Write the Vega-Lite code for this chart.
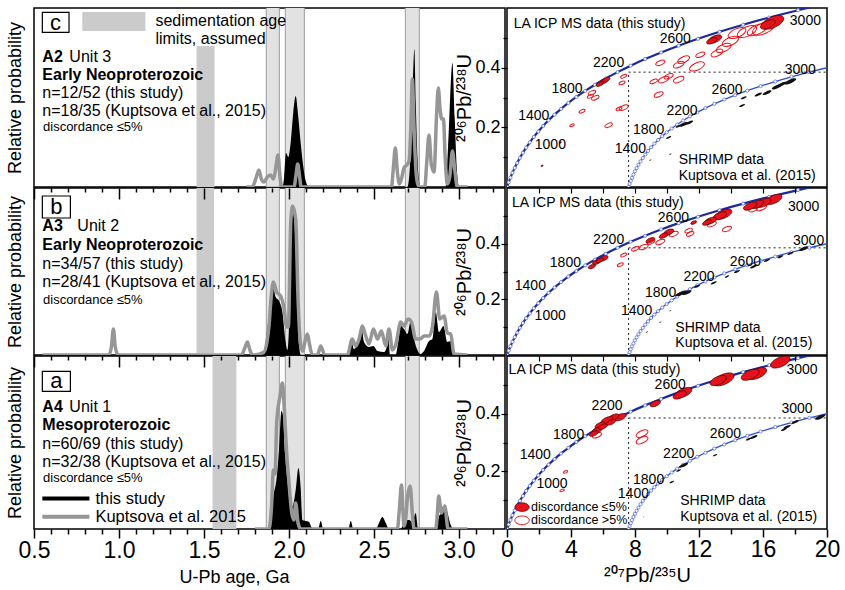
{
"$schema":"https://vega.github.io/schema/vega-lite/v6.json",
"padding":{"left":5,"top":7,"right":2,"bottom":2},
"background":"white",
"columns":2,
"spacing":{"row":1,"column":2},
"bounds":"flush",
"config":{"font":"Liberation Sans","view":{"stroke":"black","strokeWidth":1.5},"axis":{"grid":false,"labelColor":"black","titleColor":"black","tickColor":"black","domainColor":"black","titleFontWeight":"normal","labelFont":"Liberation Sans","titleFont":"Liberation Sans"},"text":{"color":"black","font":"Liberation Sans"}},
"datasets":{
"dens":[
{"p":"c","s":"this","x":1.80,"y":0},{"p":"c","s":"this","x":1.961,"y":0},{"p":"c","s":"this","x":1.971,"y":10},{"p":"c","s":"this","x":1.982,"y":34},{"p":"c","s":"this","x":1.996,"y":30},{"p":"c","s":"this","x":2.010,"y":45},{"p":"c","s":"this","x":2.025,"y":75},{"p":"c","s":"this","x":2.039,"y":91},{"p":"c","s":"this","x":2.053,"y":72},{"p":"c","s":"this","x":2.069,"y":43},{"p":"c","s":"this","x":2.084,"y":20},{"p":"c","s":"this","x":2.098,"y":6},{"p":"c","s":"this","x":2.118,"y":0},{"p":"c","s":"this","x":2.696,"y":0},{"p":"c","s":"this","x":2.710,"y":18},{"p":"c","s":"this","x":2.720,"y":55},{"p":"c","s":"this","x":2.728,"y":100},{"p":"c","s":"this","x":2.737,"y":138},{"p":"c","s":"this","x":2.745,"y":85},{"p":"c","s":"this","x":2.755,"y":30},{"p":"c","s":"this","x":2.765,"y":5},{"p":"c","s":"this","x":2.774,"y":0},{"p":"c","s":"this","x":2.921,"y":0},{"p":"c","s":"this","x":2.935,"y":40},{"p":"c","s":"this","x":2.961,"y":124},{"p":"c","s":"this","x":2.974,"y":70},{"p":"c","s":"this","x":2.986,"y":20},{"p":"c","s":"this","x":3.000,"y":0},{"p":"c","s":"this","x":3.049,"y":0},
{"p":"c","s":"kup","x":1.751,"y":0},{"p":"c","s":"kup","x":1.784,"y":0},{"p":"c","s":"kup","x":1.804,"y":8},{"p":"c","s":"kup","x":1.823,"y":17},{"p":"c","s":"kup","x":1.837,"y":8},{"p":"c","s":"kup","x":1.853,"y":5},{"p":"c","s":"kup","x":1.872,"y":10},{"p":"c","s":"kup","x":1.892,"y":12},{"p":"c","s":"kup","x":1.908,"y":8},{"p":"c","s":"kup","x":1.921,"y":18},{"p":"c","s":"kup","x":1.935,"y":32},{"p":"c","s":"kup","x":1.947,"y":10},{"p":"c","s":"kup","x":1.957,"y":0},{"p":"c","s":"kup","x":2.029,"y":0},{"p":"c","s":"kup","x":2.041,"y":12},{"p":"c","s":"kup","x":2.051,"y":23},{"p":"c","s":"kup","x":2.061,"y":12},{"p":"c","s":"kup","x":2.071,"y":0},{"p":"c","s":"kup","x":2.602,"y":0},{"p":"c","s":"kup","x":2.614,"y":20},{"p":"c","s":"kup","x":2.625,"y":39},{"p":"c","s":"kup","x":2.637,"y":15},{"p":"c","s":"kup","x":2.649,"y":3},{"p":"c","s":"kup","x":2.661,"y":8},{"p":"c","s":"kup","x":2.676,"y":19},{"p":"c","s":"kup","x":2.692,"y":22},{"p":"c","s":"kup","x":2.706,"y":26},{"p":"c","s":"kup","x":2.716,"y":60},{"p":"c","s":"kup","x":2.725,"y":108},{"p":"c","s":"kup","x":2.735,"y":60},{"p":"c","s":"kup","x":2.747,"y":15},{"p":"c","s":"kup","x":2.759,"y":2},{"p":"c","s":"kup","x":2.771,"y":0},{"p":"c","s":"kup","x":2.798,"y":0},{"p":"c","s":"kup","x":2.810,"y":25},{"p":"c","s":"kup","x":2.823,"y":52},{"p":"c","s":"kup","x":2.837,"y":22},{"p":"c","s":"kup","x":2.853,"y":15},{"p":"c","s":"kup","x":2.867,"y":70},{"p":"c","s":"kup","x":2.878,"y":99},{"p":"c","s":"kup","x":2.888,"y":78},{"p":"c","s":"kup","x":2.898,"y":68},{"p":"c","s":"kup","x":2.908,"y":68},{"p":"c","s":"kup","x":2.918,"y":30},{"p":"c","s":"kup","x":2.931,"y":3},{"p":"c","s":"kup","x":2.945,"y":10},{"p":"c","s":"kup","x":2.961,"y":36},{"p":"c","s":"kup","x":2.974,"y":18},{"p":"c","s":"kup","x":2.990,"y":0},{"p":"c","s":"kup","x":3.049,"y":0},
{"p":"b","s":"this","x":1.80,"y":0},{"p":"b","s":"this","x":1.853,"y":0},{"p":"b","s":"this","x":1.863,"y":13},{"p":"b","s":"this","x":1.882,"y":40},{"p":"b","s":"this","x":1.896,"y":62},{"p":"b","s":"this","x":1.908,"y":66},{"p":"b","s":"this","x":1.921,"y":58},{"p":"b","s":"this","x":1.941,"y":54},{"p":"b","s":"this","x":1.961,"y":43},{"p":"b","s":"this","x":1.980,"y":13},{"p":"b","s":"this","x":1.990,"y":5},{"p":"b","s":"this","x":2.000,"y":30},{"p":"b","s":"this","x":2.010,"y":119},{"p":"b","s":"this","x":2.020,"y":147},{"p":"b","s":"this","x":2.033,"y":129},{"p":"b","s":"this","x":2.049,"y":53},{"p":"b","s":"this","x":2.059,"y":10},{"p":"b","s":"this","x":2.069,"y":0},{"p":"b","s":"this","x":2.353,"y":0},{"p":"b","s":"this","x":2.367,"y":13},{"p":"b","s":"this","x":2.382,"y":6},{"p":"b","s":"this","x":2.406,"y":13},{"p":"b","s":"this","x":2.425,"y":29},{"p":"b","s":"this","x":2.441,"y":13},{"p":"b","s":"this","x":2.470,"y":8},{"p":"b","s":"this","x":2.496,"y":9},{"p":"b","s":"this","x":2.520,"y":4},{"p":"b","s":"this","x":2.559,"y":3},{"p":"b","s":"this","x":2.574,"y":8},{"p":"b","s":"this","x":2.584,"y":24},{"p":"b","s":"this","x":2.594,"y":0},{"p":"b","s":"this","x":2.627,"y":0},{"p":"b","s":"this","x":2.641,"y":12},{"p":"b","s":"this","x":2.657,"y":29},{"p":"b","s":"this","x":2.676,"y":26},{"p":"b","s":"this","x":2.696,"y":21},{"p":"b","s":"this","x":2.716,"y":34},{"p":"b","s":"this","x":2.735,"y":16},{"p":"b","s":"this","x":2.755,"y":5},{"p":"b","s":"this","x":2.774,"y":1},{"p":"b","s":"this","x":2.794,"y":4},{"p":"b","s":"this","x":2.823,"y":14},{"p":"b","s":"this","x":2.843,"y":16},{"p":"b","s":"this","x":2.863,"y":43},{"p":"b","s":"this","x":2.882,"y":23},{"p":"b","s":"this","x":2.908,"y":29},{"p":"b","s":"this","x":2.931,"y":13},{"p":"b","s":"this","x":2.951,"y":14},{"p":"b","s":"this","x":2.967,"y":0},{"p":"b","s":"this","x":3.049,"y":0},
{"p":"b","s":"kup","x":0.55,"y":0},{"p":"b","s":"kup","x":0.94,"y":0},{"p":"b","s":"kup","x":0.955,"y":8},{"p":"b","s":"kup","x":0.967,"y":26},{"p":"b","s":"kup","x":0.978,"y":8},{"p":"b","s":"kup","x":0.995,"y":0},{"p":"b","s":"kup","x":1.72,"y":0},{"p":"b","s":"kup","x":1.742,"y":8},{"p":"b","s":"kup","x":1.755,"y":13},{"p":"b","s":"kup","x":1.768,"y":6},{"p":"b","s":"kup","x":1.785,"y":0},{"p":"b","s":"kup","x":1.853,"y":3},{"p":"b","s":"kup","x":1.869,"y":12},{"p":"b","s":"kup","x":1.882,"y":29},{"p":"b","s":"kup","x":1.896,"y":60},{"p":"b","s":"kup","x":1.908,"y":73},{"p":"b","s":"kup","x":1.927,"y":63},{"p":"b","s":"kup","x":1.951,"y":59},{"p":"b","s":"kup","x":1.971,"y":46},{"p":"b","s":"kup","x":1.986,"y":28},{"p":"b","s":"kup","x":1.996,"y":28},{"p":"b","s":"kup","x":2.010,"y":133},{"p":"b","s":"kup","x":2.021,"y":149},{"p":"b","s":"kup","x":2.039,"y":136},{"p":"b","s":"kup","x":2.053,"y":56},{"p":"b","s":"kup","x":2.069,"y":9},{"p":"b","s":"kup","x":2.082,"y":4},{"p":"b","s":"kup","x":2.094,"y":14},{"p":"b","s":"kup","x":2.108,"y":21},{"p":"b","s":"kup","x":2.121,"y":10},{"p":"b","s":"kup","x":2.137,"y":0},{"p":"b","s":"kup","x":2.167,"y":0},{"p":"b","s":"kup","x":2.186,"y":9},{"p":"b","s":"kup","x":2.210,"y":0},{"p":"b","s":"kup","x":2.343,"y":0},{"p":"b","s":"kup","x":2.372,"y":16},{"p":"b","s":"kup","x":2.392,"y":9},{"p":"b","s":"kup","x":2.412,"y":16},{"p":"b","s":"kup","x":2.431,"y":29},{"p":"b","s":"kup","x":2.451,"y":19},{"p":"b","s":"kup","x":2.470,"y":11},{"p":"b","s":"kup","x":2.496,"y":26},{"p":"b","s":"kup","x":2.520,"y":16},{"p":"b","s":"kup","x":2.543,"y":24},{"p":"b","s":"kup","x":2.569,"y":9},{"p":"b","s":"kup","x":2.588,"y":26},{"p":"b","s":"kup","x":2.608,"y":5},{"p":"b","s":"kup","x":2.627,"y":10},{"p":"b","s":"kup","x":2.657,"y":33},{"p":"b","s":"kup","x":2.676,"y":29},{"p":"b","s":"kup","x":2.700,"y":36},{"p":"b","s":"kup","x":2.720,"y":33},{"p":"b","s":"kup","x":2.745,"y":16},{"p":"b","s":"kup","x":2.771,"y":16},{"p":"b","s":"kup","x":2.794,"y":19},{"p":"b","s":"kup","x":2.823,"y":19},{"p":"b","s":"kup","x":2.843,"y":28},{"p":"b","s":"kup","x":2.867,"y":63},{"p":"b","s":"kup","x":2.886,"y":36},{"p":"b","s":"kup","x":2.912,"y":39},{"p":"b","s":"kup","x":2.931,"y":22},{"p":"b","s":"kup","x":2.951,"y":21},{"p":"b","s":"kup","x":2.970,"y":1},{"p":"b","s":"kup","x":3.049,"y":0},
{"p":"a","s":"this","x":1.80,"y":0},{"p":"a","s":"this","x":1.882,"y":0},{"p":"a","s":"this","x":1.892,"y":9},{"p":"a","s":"this","x":1.908,"y":33},{"p":"a","s":"this","x":1.927,"y":51},{"p":"a","s":"this","x":1.941,"y":79},{"p":"a","s":"this","x":1.955,"y":118},{"p":"a","s":"this","x":1.965,"y":113},{"p":"a","s":"this","x":1.976,"y":76},{"p":"a","s":"this","x":1.990,"y":49},{"p":"a","s":"this","x":2.006,"y":26},{"p":"a","s":"this","x":2.020,"y":23},{"p":"a","s":"this","x":2.039,"y":39},{"p":"a","s":"this","x":2.055,"y":61},{"p":"a","s":"this","x":2.069,"y":39},{"p":"a","s":"this","x":2.078,"y":9},{"p":"a","s":"this","x":2.098,"y":8},{"p":"a","s":"this","x":2.118,"y":7},{"p":"a","s":"this","x":2.131,"y":2},{"p":"a","s":"this","x":2.147,"y":0},{"p":"a","s":"this","x":2.171,"y":0},{"p":"a","s":"this","x":2.186,"y":8},{"p":"a","s":"this","x":2.202,"y":0},{"p":"a","s":"this","x":2.349,"y":0},{"p":"a","s":"this","x":2.363,"y":8},{"p":"a","s":"this","x":2.378,"y":0},{"p":"a","s":"this","x":2.510,"y":0},{"p":"a","s":"this","x":2.529,"y":6},{"p":"a","s":"this","x":2.549,"y":12},{"p":"a","s":"this","x":2.569,"y":6},{"p":"a","s":"this","x":2.588,"y":0},{"p":"a","s":"this","x":2.657,"y":0},{"p":"a","s":"this","x":2.676,"y":7},{"p":"a","s":"this","x":2.706,"y":9},{"p":"a","s":"this","x":2.725,"y":7},{"p":"a","s":"this","x":2.745,"y":16},{"p":"a","s":"this","x":2.759,"y":0},{"p":"a","s":"this","x":2.863,"y":0},{"p":"a","s":"this","x":2.882,"y":13},{"p":"a","s":"this","x":2.896,"y":16},{"p":"a","s":"this","x":2.908,"y":23},{"p":"a","s":"this","x":2.927,"y":19},{"p":"a","s":"this","x":2.951,"y":4},{"p":"a","s":"this","x":2.967,"y":0},{"p":"a","s":"this","x":3.049,"y":0},
{"p":"a","s":"kup","x":1.80,"y":0},{"p":"a","s":"kup","x":1.882,"y":0},{"p":"a","s":"kup","x":1.896,"y":20},{"p":"a","s":"kup","x":1.908,"y":59},{"p":"a","s":"kup","x":1.918,"y":55},{"p":"a","s":"kup","x":1.927,"y":106},{"p":"a","s":"kup","x":1.947,"y":133},{"p":"a","s":"kup","x":1.961,"y":146},{"p":"a","s":"kup","x":1.971,"y":123},{"p":"a","s":"kup","x":1.986,"y":76},{"p":"a","s":"kup","x":2.000,"y":46},{"p":"a","s":"kup","x":2.016,"y":16},{"p":"a","s":"kup","x":2.029,"y":9},{"p":"a","s":"kup","x":2.039,"y":26},{"p":"a","s":"kup","x":2.053,"y":6},{"p":"a","s":"kup","x":2.069,"y":0},{"p":"a","s":"kup","x":2.637,"y":0},{"p":"a","s":"kup","x":2.649,"y":20},{"p":"a","s":"kup","x":2.661,"y":44},{"p":"a","s":"kup","x":2.676,"y":3},{"p":"a","s":"kup","x":2.686,"y":10},{"p":"a","s":"kup","x":2.696,"y":31},{"p":"a","s":"kup","x":2.712,"y":43},{"p":"a","s":"kup","x":2.725,"y":16},{"p":"a","s":"kup","x":2.735,"y":0},{"p":"a","s":"kup","x":2.863,"y":0},{"p":"a","s":"kup","x":2.872,"y":15},{"p":"a","s":"kup","x":2.880,"y":33},{"p":"a","s":"kup","x":2.896,"y":16},{"p":"a","s":"kup","x":2.916,"y":23},{"p":"a","s":"kup","x":2.935,"y":0},{"p":"a","s":"kup","x":3.049,"y":0}
],
"bands":[{"x":1.866,"x2":1.943,"y":0,"y2":250},{"x":1.978,"x2":2.090,"y":0,"y2":250},{"x":2.684,"x2":2.766,"y":0,"y2":250}],
"hatch":[{"p":"c","x":1.456,"x2":1.562,"y":0,"y2":141},{"p":"c","x":0.784,"x2":1.155,"y":156,"y2":175},{"p":"b","x":1.456,"x2":1.559,"y":2,"y2":167},{"p":"a","x":1.55,"x2":1.69,"y":0,"y2":173}],
"boxes":[{"p":"c","x":0.549,"x2":0.706,"y":154.7,"y2":174.7},{"p":"b","x":0.549,"x2":0.714,"y":137,"y2":159},{"p":"a","x":0.549,"x2":0.714,"y":137.7,"y2":157.7}],
"notes":[
{"p":"c","role":"letter","x":0.627,"y":164,"t":"c"},
{"p":"c","role":"info","x":1.214,"y":166,"t":"sedimentation age"},
{"p":"c","role":"info","x":1.214,"y":147.7,"t":"limits, assumed"},
{"p":"c","role":"bold","x":0.549,"y":129.7,"t":"A2"},
{"p":"c","role":"info","x":0.708,"y":129.7,"t":"Unit 3"},
{"p":"c","role":"bold","x":0.549,"y":111.7,"t":"Early Neoproterozoic"},
{"p":"c","role":"info","x":0.549,"y":93.7,"t":"n=12/52 (this study)"},
{"p":"c","role":"info","x":0.549,"y":75.7,"t":"n=18/35 (Kuptsova et al., 2015)"},
{"p":"c","role":"small","x":0.553,"y":60,"t":"discordance ≤5%"},
{"p":"b","role":"letter","x":0.631,"y":148,"t":"b"},
{"p":"b","role":"bold","x":0.549,"y":129,"t":"A3"},
{"p":"b","role":"info","x":0.755,"y":129,"t":"Unit 2"},
{"p":"b","role":"bold","x":0.549,"y":110,"t":"Early Neoproterozoic"},
{"p":"b","role":"info","x":0.549,"y":91,"t":"n=34/57 (this study)"},
{"p":"b","role":"info","x":0.549,"y":73,"t":"n=28/41 (Kuptsova et al., 2015)"},
{"p":"b","role":"small","x":0.553,"y":55,"t":"discordance ≤5%"},
{"p":"a","role":"letter","x":0.631,"y":147.7,"t":"a"},
{"p":"a","role":"bold","x":0.549,"y":121.7,"t":"A4"},
{"p":"a","role":"info","x":0.708,"y":121.7,"t":"Unit 1"},
{"p":"a","role":"bold","x":0.549,"y":103.7,"t":"Mesoproterozoic"},
{"p":"a","role":"info","x":0.549,"y":84.7,"t":"n=60/69 (this study)"},
{"p":"a","role":"info","x":0.549,"y":67.2,"t":"n=32/38 (Kuptsova et al., 2015)"},
{"p":"a","role":"small","x":0.553,"y":51,"t":"discordance ≤5%"},
{"p":"a","role":"legend","x":0.861,"y":30.5,"t":"this study"},
{"p":"a","role":"legend","x":0.861,"y":12.2,"t":"Kuptsova et al. 2015"}
],
"legendLines":[{"s":"this","x":0.549,"x2":0.826,"y":30.5},{"s":"kup","x":0.549,"x2":0.826,"y":12.2}],
"conc":[
{"c":"upper","t":0,"x":0,"y":0},{"c":"upper","t":100,"x":0.1035,"y":0.01563},{"c":"upper","t":200,"x":0.2177,"y":0.03151},{"c":"upper","t":300,"x":0.3437,"y":0.04764},{"c":"upper","t":400,"x":0.4828,"y":0.06402},{"c":"upper","t":500,"x":0.6363,"y":0.08065},{"c":"upper","t":600,"x":0.8056,"y":0.09754},{"c":"upper","t":700,"x":0.9925,"y":0.1147},{"c":"upper","t":800,"x":1.1987,"y":0.13213},{"c":"upper","t":900,"x":1.4263,"y":0.14983},{"c":"upper","t":1000,"x":1.6774,"y":0.1678},{"c":"upper","t":1100,"x":1.9545,"y":0.18606},{"c":"upper","t":1200,"x":2.2603,"y":0.2046},{"c":"upper","t":1300,"x":2.5977,"y":0.22344},{"c":"upper","t":1400,"x":2.9701,"y":0.24256},{"c":"upper","t":1500,"x":3.381,"y":0.26199},{"c":"upper","t":1600,"x":3.8344,"y":0.28172},{"c":"upper","t":1700,"x":4.3348,"y":0.30175},{"c":"upper","t":1800,"x":4.8869,"y":0.3221},{"c":"upper","t":1900,"x":5.4962,"y":0.34277},{"c":"upper","t":2000,"x":6.1685,"y":0.36377},{"c":"upper","t":2100,"x":6.9105,"y":0.38509},{"c":"upper","t":2200,"x":7.7292,"y":0.40674},{"c":"upper","t":2300,"x":8.6326,"y":0.42873},{"c":"upper","t":2400,"x":9.6296,"y":0.45107},{"c":"upper","t":2500,"x":10.7297,"y":0.47375},{"c":"upper","t":2600,"x":11.9438,"y":0.49679},{"c":"upper","t":2700,"x":13.2834,"y":0.52019},{"c":"upper","t":2800,"x":14.7617,"y":0.54396},{"c":"upper","t":2900,"x":16.393,"y":0.5681},{"c":"upper","t":3000,"x":18.1931,"y":0.59261},{"c":"upper","t":3100,"x":20.18,"y":0.61751},
{"c":"lower","t":0,"x":7.6,"y":0},{"c":"lower","t":100,"x":7.664,"y":0.0102},{"c":"lower","t":200,"x":7.735,"y":0.0205},{"c":"lower","t":300,"x":7.813,"y":0.031},{"c":"lower","t":400,"x":7.9,"y":0.0416},{"c":"lower","t":500,"x":7.995,"y":0.0524},{"c":"lower","t":600,"x":8.1,"y":0.0634},{"c":"lower","t":700,"x":8.216,"y":0.0746},{"c":"lower","t":800,"x":8.344,"y":0.0859},{"c":"lower","t":900,"x":8.486,"y":0.0974},{"c":"lower","t":1000,"x":8.642,"y":0.1091},{"c":"lower","t":1100,"x":8.814,"y":0.1209},{"c":"lower","t":1200,"x":9.004,"y":0.133},{"c":"lower","t":1300,"x":9.213,"y":0.1452},{"c":"lower","t":1400,"x":9.444,"y":0.1577},{"c":"lower","t":1500,"x":9.7,"y":0.1703},{"c":"lower","t":1600,"x":9.981,"y":0.1831},{"c":"lower","t":1700,"x":10.292,"y":0.1961},{"c":"lower","t":1800,"x":10.635,"y":0.2094},{"c":"lower","t":1900,"x":11.013,"y":0.2228},{"c":"lower","t":2000,"x":11.431,"y":0.2365},{"c":"lower","t":2100,"x":11.891,"y":0.2503},{"c":"lower","t":2200,"x":12.4,"y":0.2644},{"c":"lower","t":2300,"x":12.961,"y":0.2787},{"c":"lower","t":2400,"x":13.58,"y":0.2932},{"c":"lower","t":2500,"x":14.263,"y":0.3079},{"c":"lower","t":2600,"x":15.017,"y":0.3229},{"c":"lower","t":2700,"x":15.849,"y":0.3381},{"c":"lower","t":2800,"x":16.767,"y":0.3536},{"c":"lower","t":2900,"x":17.78,"y":0.3693},{"c":"lower","t":3000,"x":18.898,"y":0.3852},{"c":"lower","t":3100,"x":20.132,"y":0.4014}
],
"guides":[{"x":7.6,"y":0,"x2":7.6,"y2":0.385},{"x":7.6,"y":0.385,"x2":20,"y2":0.385}],
"zircons":[
{"p":"c","g":"conc","x":16.6,"y":0.552,"e":1.5},{"p":"c","g":"conc","x":16.3,"y":0.545,"e":1.0},{"p":"c","g":"conc","x":13.0,"y":0.496,"e":0.9},{"p":"c","g":"conc","x":12.8,"y":0.49,"e":0.7},{"p":"c","g":"conc","x":6.04,"y":0.354,"e":0.6},{"p":"c","g":"conc","x":5.8,"y":0.345,"e":0.5},{"p":"c","g":"conc","x":6.2,"y":0.36,"e":0.5},{"p":"c","g":"conc","x":3.33,"y":0.149,"e":0.15},{"p":"c","g":"conc","x":2.19,"y":0.071,"e":0.15},
{"p":"c","g":"disc","x":14.375,"y":0.516,"e":1.2},{"p":"c","g":"disc","x":15.0,"y":0.521,"e":1.3},{"p":"c","g":"disc","x":15.625,"y":0.527,"e":1.3},{"p":"c","g":"disc","x":16.04,"y":0.532,"e":1.5},{"p":"c","g":"disc","x":13.96,"y":0.488,"e":1.1},{"p":"c","g":"disc","x":13.54,"y":0.466,"e":1.0},{"p":"c","g":"disc","x":13.125,"y":0.449,"e":0.8},{"p":"c","g":"disc","x":12.08,"y":0.443,"e":0.6},{"p":"c","g":"disc","x":11.875,"y":0.404,"e":1.0},{"p":"c","g":"disc","x":11.04,"y":0.427,"e":0.8},{"p":"c","g":"disc","x":10.73,"y":0.41,"e":0.7},{"p":"c","g":"disc","x":10.73,"y":0.36,"e":0.7},{"p":"c","g":"disc","x":10.1,"y":0.371,"e":0.6},{"p":"c","g":"disc","x":9.79,"y":0.36,"e":0.7},{"p":"c","g":"disc","x":9.17,"y":0.354,"e":0.5},{"p":"c","g":"disc","x":9.58,"y":0.416,"e":0.6},{"p":"c","g":"disc","x":9.48,"y":0.31,"e":0.6},{"p":"c","g":"disc","x":7.29,"y":0.371,"e":0.4},{"p":"c","g":"disc","x":7.19,"y":0.349,"e":0.4},{"p":"c","g":"disc","x":7.29,"y":0.266,"e":0.6},{"p":"c","g":"disc","x":7.0,"y":0.262,"e":0.4},{"p":"c","g":"disc","x":6.35,"y":0.207,"e":0.5},{"p":"c","g":"disc","x":5.52,"y":0.299,"e":0.5},{"p":"c","g":"disc","x":5.21,"y":0.304,"e":0.4},{"p":"c","g":"disc","x":5.31,"y":0.316,"e":0.5},{"p":"c","g":"disc","x":4.69,"y":0.254,"e":0.4},{"p":"c","g":"disc","x":4.06,"y":0.207,"e":0.3},
{"p":"c","g":"shrimp","x":17.71,"y":0.354,"e":0.8},{"p":"c","g":"shrimp","x":17.2,"y":0.345,"e":0.6},{"p":"c","g":"shrimp","x":16.875,"y":0.336,"e":0.7},{"p":"c","g":"shrimp","x":16.25,"y":0.316,"e":0.6},{"p":"c","g":"shrimp","x":15.7,"y":0.31,"e":0.5},{"p":"c","g":"shrimp","x":14.79,"y":0.299,"e":0.4},{"p":"c","g":"shrimp","x":14.69,"y":0.273,"e":0.4},{"p":"c","g":"shrimp","x":11.04,"y":0.21,"e":0.6},{"p":"c","g":"shrimp","x":11.4,"y":0.216,"e":0.5},{"p":"c","g":"shrimp","x":10.73,"y":0.204,"e":0.4},{"p":"c","g":"shrimp","x":10.1,"y":0.166,"e":0.35},{"p":"c","g":"shrimp","x":10.2,"y":0.11,"e":0.15},{"p":"c","g":"shrimp","x":8.96,"y":0.09,"e":0.15},
{"p":"b","g":"conc","x":16.67,"y":0.559,"e":1.1},{"p":"b","g":"conc","x":16.04,"y":0.547,"e":1.0},{"p":"b","g":"conc","x":15.625,"y":0.541,"e":0.9},{"p":"b","g":"conc","x":15.2,"y":0.535,"e":0.9},{"p":"b","g":"conc","x":13.54,"y":0.506,"e":1.1},{"p":"b","g":"conc","x":13.3,"y":0.5,"e":0.9},{"p":"b","g":"conc","x":12.71,"y":0.482,"e":0.8},{"p":"b","g":"conc","x":12.5,"y":0.476,"e":0.6},{"p":"b","g":"conc","x":11.67,"y":0.476,"e":0.4},{"p":"b","g":"conc","x":10.1,"y":0.441,"e":0.7},{"p":"b","g":"conc","x":9.79,"y":0.429,"e":0.6},{"p":"b","g":"conc","x":8.96,"y":0.412,"e":0.6},{"p":"b","g":"conc","x":6.04,"y":0.347,"e":0.6},{"p":"b","g":"conc","x":5.625,"y":0.335,"e":0.6},{"p":"b","g":"conc","x":5.31,"y":0.318,"e":0.5},{"p":"b","g":"conc","x":5.8,"y":0.34,"e":0.5},
{"p":"b","g":"disc","x":15.9,"y":0.53,"e":0.7},{"p":"b","g":"disc","x":15.4,"y":0.524,"e":0.6},{"p":"b","g":"disc","x":13.75,"y":0.453,"e":0.6},{"p":"b","g":"disc","x":12.8,"y":0.47,"e":0.6},{"p":"b","g":"disc","x":11.35,"y":0.447,"e":0.5},{"p":"b","g":"disc","x":11.45,"y":0.435,"e":0.5},{"p":"b","g":"disc","x":10.42,"y":0.435,"e":0.6},{"p":"b","g":"disc","x":9.58,"y":0.406,"e":0.6},{"p":"b","g":"disc","x":9.0,"y":0.406,"e":0.5},{"p":"b","g":"disc","x":8.54,"y":0.388,"e":0.6},{"p":"b","g":"disc","x":8.02,"y":0.382,"e":0.5},{"p":"b","g":"disc","x":7.29,"y":0.359,"e":0.4},{"p":"b","g":"disc","x":7.08,"y":0.324,"e":0.4},
{"p":"b","g":"shrimp","x":18.54,"y":0.382,"e":0.6},{"p":"b","g":"shrimp","x":17.71,"y":0.365,"e":0.4},{"p":"b","g":"shrimp","x":17.08,"y":0.353,"e":0.4},{"p":"b","g":"shrimp","x":16.25,"y":0.34,"e":0.4},{"p":"b","g":"shrimp","x":15.42,"y":0.318,"e":0.5},{"p":"b","g":"shrimp","x":14.375,"y":0.3,"e":0.4},{"p":"b","g":"shrimp","x":13.75,"y":0.282,"e":0.3},{"p":"b","g":"shrimp","x":12.92,"y":0.259,"e":0.4},{"p":"b","g":"shrimp","x":11.875,"y":0.247,"e":0.4},{"p":"b","g":"shrimp","x":11.25,"y":0.224,"e":0.6},{"p":"b","g":"shrimp","x":10.9,"y":0.222,"e":0.7},{"p":"b","g":"shrimp","x":10.73,"y":0.218,"e":0.5},{"p":"b","g":"shrimp","x":10.2,"y":0.159,"e":0.15},{"p":"b","g":"shrimp","x":9.58,"y":0.118,"e":0.15},{"p":"b","g":"shrimp","x":8.75,"y":0.082,"e":0.15},
{"p":"a","g":"conc","x":17.08,"y":0.579,"e":1.3},{"p":"a","g":"conc","x":15.625,"y":0.539,"e":1.3},{"p":"a","g":"conc","x":15.2,"y":0.535,"e":1.2},{"p":"a","g":"conc","x":13.54,"y":0.519,"e":1.4},{"p":"a","g":"conc","x":13.2,"y":0.515,"e":1.1},{"p":"a","g":"conc","x":11.04,"y":0.473,"e":1.1},{"p":"a","g":"conc","x":10.8,"y":0.465,"e":0.9},{"p":"a","g":"conc","x":9.27,"y":0.435,"e":0.7},{"p":"a","g":"conc","x":7.08,"y":0.388,"e":0.8},{"p":"a","g":"conc","x":6.67,"y":0.388,"e":0.7},{"p":"a","g":"conc","x":6.25,"y":0.377,"e":0.8},{"p":"a","g":"conc","x":5.83,"y":0.36,"e":0.7},{"p":"a","g":"conc","x":5.625,"y":0.342,"e":0.7},{"p":"a","g":"conc","x":5.42,"y":0.331,"e":0.6},{"p":"a","g":"conc","x":6.5,"y":0.37,"e":0.6},{"p":"a","g":"conc","x":6.0,"y":0.355,"e":0.6},
{"p":"a","g":"disc","x":5.625,"y":0.325,"e":0.6},{"p":"a","g":"disc","x":8.44,"y":0.331,"e":0.8},{"p":"a","g":"disc","x":8.44,"y":0.308,"e":0.8},{"p":"a","g":"disc","x":3.65,"y":0.198,"e":0.3},{"p":"a","g":"disc","x":3.44,"y":0.134,"e":0.3},
{"p":"a","g":"shrimp","x":19.58,"y":0.388,"e":0.7},{"p":"a","g":"shrimp","x":18.0,"y":0.371,"e":0.5},{"p":"a","g":"shrimp","x":17.5,"y":0.354,"e":0.5},{"p":"a","g":"shrimp","x":17.3,"y":0.345,"e":0.4},{"p":"a","g":"shrimp","x":15.42,"y":0.319,"e":0.5},{"p":"a","g":"shrimp","x":15.1,"y":0.312,"e":0.4},{"p":"a","g":"shrimp","x":13.0,"y":0.256,"e":0.3},{"p":"a","g":"shrimp","x":11.04,"y":0.221,"e":0.6},{"p":"a","g":"shrimp","x":10.73,"y":0.203,"e":0.3},{"p":"a","g":"shrimp","x":10.3,"y":0.163,"e":0.3},{"p":"a","g":"shrimp","x":8.54,"y":0.042,"e":0.1}
],
"keys":[{"g":"conc","x":0.94,"y":0.076,"e":0.9},{"g":"disc","x":0.94,"y":0.03,"e":0.9}],
"cLabels":[
{"p":"c","role":"age","x":2.71,"y":0.141,"t":"1000"},{"p":"c","role":"age","x":1.67,"y":0.238,"t":"1400"},{"p":"c","role":"age","x":3.75,"y":0.329,"t":"1800"},{"p":"c","role":"age","x":6.35,"y":0.416,"t":"2200"},{"p":"c","role":"age","x":10.52,"y":0.497,"t":"2600"},{"p":"c","role":"age","x":18.65,"y":0.555,"t":"3000"},{"p":"c","role":"age","x":18.33,"y":0.391,"t":"3000"},{"p":"c","role":"age","x":13.75,"y":0.324,"t":"2600"},{"p":"c","role":"age","x":10.94,"y":0.254,"t":"2200"},{"p":"c","role":"age","x":8.85,"y":0.191,"t":"1800"},{"p":"c","role":"age","x":7.71,"y":0.127,"t":"1400"},
{"p":"c","role":"info","x":0.42,"y":0.545,"t":"LA ICP MS data (this study)"},{"p":"c","role":"info","x":10.73,"y":0.09,"t":"SHRIMP data"},{"p":"c","role":"info","x":10.73,"y":0.037,"t":"Kuptsova et al. (2015)"},
{"p":"b","role":"age","x":2.7,"y":0.141,"t":"1000"},{"p":"b","role":"age","x":1.46,"y":0.247,"t":"1400"},{"p":"b","role":"age","x":3.65,"y":0.332,"t":"1800"},{"p":"b","role":"age","x":6.35,"y":0.414,"t":"2200"},{"p":"b","role":"age","x":10.4,"y":0.494,"t":"2600"},{"p":"b","role":"age","x":18.54,"y":0.53,"t":"3000"},{"p":"b","role":"age","x":18.85,"y":0.41,"t":"3000"},{"p":"b","role":"age","x":14.9,"y":0.335,"t":"2600"},{"p":"b","role":"age","x":12.0,"y":0.28,"t":"2200"},{"p":"b","role":"age","x":9.6,"y":0.224,"t":"1800"},{"p":"b","role":"age","x":8.1,"y":0.159,"t":"1400"},
{"p":"b","role":"info","x":0.31,"y":0.547,"t":"LA ICP MS data (this study)"},{"p":"b","role":"info","x":10.52,"y":0.097,"t":"SHRIMP data"},{"p":"b","role":"info","x":10.52,"y":0.042,"t":"Kuptsova et al. (2015)"},
{"p":"a","role":"age","x":2.81,"y":0.157,"t":"1000"},{"p":"a","role":"age","x":1.77,"y":0.256,"t":"1400"},{"p":"a","role":"age","x":3.85,"y":0.327,"t":"1800"},{"p":"a","role":"age","x":6.25,"y":0.427,"t":"2200"},{"p":"a","role":"age","x":10.2,"y":0.498,"t":"2600"},{"p":"a","role":"age","x":18.44,"y":0.55,"t":"3000"},{"p":"a","role":"age","x":18.125,"y":0.417,"t":"3000"},{"p":"a","role":"age","x":13.65,"y":0.331,"t":"2600"},{"p":"a","role":"age","x":10.73,"y":0.261,"t":"2200"},{"p":"a","role":"age","x":8.85,"y":0.169,"t":"1800"},{"p":"a","role":"age","x":7.9,"y":0.12,"t":"1400"},
{"p":"a","role":"info","x":0.1,"y":0.55,"t":"LA ICP MS data (this study)"},{"p":"a","role":"info","x":10.83,"y":0.096,"t":"SHRIMP data"},{"p":"a","role":"info","x":10.83,"y":0.042,"t":"Kuptsova et al. (2015)"},
{"p":"a","role":"key","x":1.5,"y":0.076,"t":"discordance ≤5%"},{"p":"a","role":"key","x":1.5,"y":0.03,"t":"discordance >5%"}
]
},
"concat":[
{"width":471,"height":179,
 "encoding":{"x":{"field":"x","type":"quantitative","scale":{"domain":[0.5,3.27],"nice":false,"zero":false},"axis":null},
  "y":{"field":"y","type":"quantitative","scale":{"domain":[0,179],"nice":false,"zero":false},"axis":{"title":"Relative probability","labels":false,"ticks":false,"domain":false,"titleFontSize":18,"titlePadding":10}}},
 "layer":[
  {"data":{"name":"bands"},"mark":{"type":"rect","fill":"#e2e2e2","stroke":"#9c9c9c","strokeWidth":1,"clip":true},"encoding":{"x2":{"field":"x2"},"y2":{"field":"y2"}}},
  {"data":{"name":"hatch"},"transform":[{"filter":"datum.p=='c'"}],"mark":{"type":"rect","fill":"#cbcbcb"},"encoding":{"x2":{"field":"x2"},"y2":{"field":"y2"}}},
  {"data":{"name":"boxes"},"transform":[{"filter":"datum.p=='c'"}],"mark":{"type":"rect","fill":"white","stroke":"black","strokeWidth":1.2},"encoding":{"x2":{"field":"x2"},"y2":{"field":"y2"}}},
  {"data":{"name":"notes"},"transform":[{"filter":"datum.p=='c' && datum.role=='letter'"}],"mark":{"type":"text","fontSize":22,"align":"center","baseline":"middle"},"encoding":{"text":{"field":"t"}}},
  {"data":{"name":"notes"},"transform":[{"filter":"datum.p=='c' && datum.role=='bold'"}],"mark":{"type":"text","fontSize":16,"fontWeight":"bold","align":"left","baseline":"middle"},"encoding":{"text":{"field":"t"}}},
  {"data":{"name":"notes"},"transform":[{"filter":"datum.p=='c' && datum.role=='info'"}],"mark":{"type":"text","fontSize":16,"align":"left","baseline":"middle"},"encoding":{"text":{"field":"t"}}},
  {"data":{"name":"notes"},"transform":[{"filter":"datum.p=='c' && datum.role=='small'"}],"mark":{"type":"text","fontSize":13,"align":"left","baseline":"middle"},"encoding":{"text":{"field":"t"}}},
  {"data":{"name":"dens"},"transform":[{"filter":"datum.p=='c' && datum.s=='this'"}],"mark":{"type":"area","color":"black","interpolate":"monotone","clip":true}},
  {"data":{"name":"dens"},"transform":[{"filter":"datum.p=='c' && datum.s=='kup'"}],"mark":{"type":"line","color":"#969696","strokeWidth":3.5,"interpolate":"monotone","clip":true}}
 ]},
{"width":320,"height":179,
 "encoding":{"x":{"field":"x","type":"quantitative","scale":{"domain":[0,20],"nice":false,"zero":false},"axis":null},
  "y":{"field":"y","type":"quantitative","scale":{"domain":[0,0.6],"nice":false,"zero":false},"axis":{"title":"²⁰⁶Pb/²³⁸U","values":[0.1,0.2,0.3,0.4,0.5],"labelExpr":"(datum.value==0.2||datum.value==0.4)?format(datum.value,'.1f'):''","tickSize":{"condition":{"test":"datum.value==0.2||datum.value==0.4","value":6},"value":4},"tickWidth":1.2,"labelFontSize":18,"labelPadding":1,"titleFontSize":20,"titlePadding":0,"domain":false,"zindex":1}}},
 "layer":[
  {"data":{"name":"guides"},"mark":{"type":"rule","strokeDash":[2,3],"color":"#222","strokeWidth":1},"encoding":{"x2":{"field":"x2"},"y2":{"field":"y2"}}},
  {"data":{"name":"conc"},"transform":[{"filter":"datum.c=='upper'"}],"mark":{"type":"line","color":"#1c2a9c","strokeWidth":2.2,"interpolate":"monotone","clip":true}},
  {"data":{"name":"conc"},"transform":[{"filter":"datum.c=='lower'"}],"mark":{"type":"line","color":"#2f4fd0","strokeWidth":1.3,"interpolate":"monotone","clip":true}},
  {"data":{"name":"conc"},"mark":{"type":"point","shape":"circle","filled":true,"fill":"white","stroke":"#5a70d8","strokeWidth":0.8,"size":10,"opacity":1,"clip":true}},
  {"data":{"name":"zircons"},"transform":[{"filter":"datum.p=='c' && datum.g=='disc'"}],"mark":{"type":"point","shape":"M -1 0 A 1 0.45 0 1 0 1 0 A 1 0.45 0 1 0 -1 0 Z","filled":false,"stroke":"#e8141c","strokeWidth":1,"opacity":1,"angle":-24,"clip":true},"encoding":{"size":{"field":"e","type":"quantitative","scale":{"type":"pow","exponent":2,"domain":[0,2],"range":[0,1024]},"legend":null}}},
  {"data":{"name":"zircons"},"transform":[{"filter":"datum.p=='c' && datum.g=='conc'"}],"mark":{"type":"point","shape":"M -1 0 A 1 0.45 0 1 0 1 0 A 1 0.45 0 1 0 -1 0 Z","filled":true,"fill":"#e3121b","stroke":"#5a0000","strokeWidth":0.7,"opacity":1,"angle":-24,"clip":true},"encoding":{"size":{"field":"e","type":"quantitative","scale":{"type":"pow","exponent":2,"domain":[0,2],"range":[0,1024]},"legend":null}}},
  {"data":{"name":"zircons"},"transform":[{"filter":"datum.p=='c' && datum.g=='shrimp'"}],"mark":{"type":"point","shape":"M -1 0 A 1 0.3 0 1 0 1 0 A 1 0.3 0 1 0 -1 0 Z","filled":true,"fill":"#111","strokeWidth":0,"opacity":1,"angle":-24,"clip":true},"encoding":{"size":{"field":"e","type":"quantitative","scale":{"type":"pow","exponent":2,"domain":[0,2],"range":[0,1024]},"legend":null}}},
  {"data":{"name":"cLabels"},"transform":[{"filter":"datum.p=='c' && datum.role=='age'"}],"mark":{"type":"text","fontSize":14,"align":"center","baseline":"middle"},"encoding":{"text":{"field":"t"}}},
  {"data":{"name":"cLabels"},"transform":[{"filter":"datum.p=='c' && datum.role=='info'"}],"mark":{"type":"text","fontSize":14,"align":"left","baseline":"middle"},"encoding":{"text":{"field":"t"}}}
 ]},
{"width":471,"height":167,
 "encoding":{"x":{"field":"x","type":"quantitative","scale":{"domain":[0.5,3.27],"nice":false,"zero":false},"axis":{"orient":"top","values":[0.5,0.6,0.7,0.8,0.9,1.0,1.1,1.2,1.3,1.4,1.5,1.6,1.7,1.8,1.9,2.0,2.1,2.2,2.3,2.4,2.5,2.6,2.7,2.8,2.9,3.0,3.1,3.2],"labels":false,"domain":false,"title":null,"tickWidth":1.5,"tickSize":{"condition":{"test":"abs(datum.value*2-round(datum.value*2))<0.001","value":-11},"value":-4},"zindex":1}},
  "y":{"field":"y","type":"quantitative","scale":{"domain":[0,167],"nice":false,"zero":false},"axis":{"title":"Relative probability","labels":false,"ticks":false,"domain":false,"titleFontSize":18,"titlePadding":10}}},
 "layer":[
  {"data":{"name":"bands"},"mark":{"type":"rect","fill":"#e2e2e2","stroke":"#9c9c9c","strokeWidth":1,"clip":true},"encoding":{"x2":{"field":"x2"},"y2":{"field":"y2"}}},
  {"data":{"name":"hatch"},"transform":[{"filter":"datum.p=='b'"}],"mark":{"type":"rect","fill":"#cbcbcb"},"encoding":{"x2":{"field":"x2"},"y2":{"field":"y2"}}},
  {"data":{"name":"boxes"},"transform":[{"filter":"datum.p=='b'"}],"mark":{"type":"rect","fill":"white","stroke":"black","strokeWidth":1.2},"encoding":{"x2":{"field":"x2"},"y2":{"field":"y2"}}},
  {"data":{"name":"notes"},"transform":[{"filter":"datum.p=='b' && datum.role=='letter'"}],"mark":{"type":"text","fontSize":22,"align":"center","baseline":"middle"},"encoding":{"text":{"field":"t"}}},
  {"data":{"name":"notes"},"transform":[{"filter":"datum.p=='b' && datum.role=='bold'"}],"mark":{"type":"text","fontSize":16,"fontWeight":"bold","align":"left","baseline":"middle"},"encoding":{"text":{"field":"t"}}},
  {"data":{"name":"notes"},"transform":[{"filter":"datum.p=='b' && datum.role=='info'"}],"mark":{"type":"text","fontSize":16,"align":"left","baseline":"middle"},"encoding":{"text":{"field":"t"}}},
  {"data":{"name":"notes"},"transform":[{"filter":"datum.p=='b' && datum.role=='small'"}],"mark":{"type":"text","fontSize":13,"align":"left","baseline":"middle"},"encoding":{"text":{"field":"t"}}},
  {"data":{"name":"dens"},"transform":[{"filter":"datum.p=='b' && datum.s=='this'"}],"mark":{"type":"area","color":"black","interpolate":"monotone","clip":true}},
  {"data":{"name":"dens"},"transform":[{"filter":"datum.p=='b' && datum.s=='kup'"}],"mark":{"type":"line","color":"#969696","strokeWidth":3.5,"interpolate":"monotone","clip":true}}
 ]},
{"width":320,"height":167,
 "encoding":{"x":{"field":"x","type":"quantitative","scale":{"domain":[0,20],"nice":false,"zero":false},"axis":{"orient":"top","values":[2,4,6,8,10,12,14,16,18],"labels":false,"domain":false,"title":null,"tickSize":-5,"tickWidth":1.2,"zindex":1}},
  "y":{"field":"y","type":"quantitative","scale":{"domain":[0,0.6],"nice":false,"zero":false},"axis":{"title":"²⁰⁶Pb/²³⁸U","values":[0.1,0.2,0.3,0.4,0.5],"labelExpr":"(datum.value==0.2||datum.value==0.4)?format(datum.value,'.1f'):''","tickSize":{"condition":{"test":"datum.value==0.2||datum.value==0.4","value":6},"value":4},"tickWidth":1.2,"labelFontSize":18,"labelPadding":1,"titleFontSize":20,"titlePadding":0,"domain":false,"zindex":1}}},
 "layer":[
  {"data":{"name":"guides"},"mark":{"type":"rule","strokeDash":[2,3],"color":"#222","strokeWidth":1},"encoding":{"x2":{"field":"x2"},"y2":{"field":"y2"}}},
  {"data":{"name":"conc"},"transform":[{"filter":"datum.c=='upper'"}],"mark":{"type":"line","color":"#1c2a9c","strokeWidth":2.2,"interpolate":"monotone","clip":true}},
  {"data":{"name":"conc"},"transform":[{"filter":"datum.c=='lower'"}],"mark":{"type":"line","color":"#2f4fd0","strokeWidth":1.3,"interpolate":"monotone","clip":true}},
  {"data":{"name":"conc"},"mark":{"type":"point","shape":"circle","filled":true,"fill":"white","stroke":"#5a70d8","strokeWidth":0.8,"size":10,"opacity":1,"clip":true}},
  {"data":{"name":"zircons"},"transform":[{"filter":"datum.p=='b' && datum.g=='disc'"}],"mark":{"type":"point","shape":"M -1 0 A 1 0.45 0 1 0 1 0 A 1 0.45 0 1 0 -1 0 Z","filled":false,"stroke":"#e8141c","strokeWidth":1,"opacity":1,"angle":-24,"clip":true},"encoding":{"size":{"field":"e","type":"quantitative","scale":{"type":"pow","exponent":2,"domain":[0,2],"range":[0,1024]},"legend":null}}},
  {"data":{"name":"zircons"},"transform":[{"filter":"datum.p=='b' && datum.g=='conc'"}],"mark":{"type":"point","shape":"M -1 0 A 1 0.45 0 1 0 1 0 A 1 0.45 0 1 0 -1 0 Z","filled":true,"fill":"#e3121b","stroke":"#5a0000","strokeWidth":0.7,"opacity":1,"angle":-24,"clip":true},"encoding":{"size":{"field":"e","type":"quantitative","scale":{"type":"pow","exponent":2,"domain":[0,2],"range":[0,1024]},"legend":null}}},
  {"data":{"name":"zircons"},"transform":[{"filter":"datum.p=='b' && datum.g=='shrimp'"}],"mark":{"type":"point","shape":"M -1 0 A 1 0.3 0 1 0 1 0 A 1 0.3 0 1 0 -1 0 Z","filled":true,"fill":"#111","strokeWidth":0,"opacity":1,"angle":-24,"clip":true},"encoding":{"size":{"field":"e","type":"quantitative","scale":{"type":"pow","exponent":2,"domain":[0,2],"range":[0,1024]},"legend":null}}},
  {"data":{"name":"cLabels"},"transform":[{"filter":"datum.p=='b' && datum.role=='age'"}],"mark":{"type":"text","fontSize":14,"align":"center","baseline":"middle"},"encoding":{"text":{"field":"t"}}},
  {"data":{"name":"cLabels"},"transform":[{"filter":"datum.p=='b' && datum.role=='info'"}],"mark":{"type":"text","fontSize":14,"align":"left","baseline":"middle"},"encoding":{"text":{"field":"t"}}}
 ]},
{"width":471,"height":173,
 "resolve":{"axis":{"x":"independent"}},
 "layer":[
 {"encoding":{"x":{"field":"x","type":"quantitative","scale":{"domain":[0.5,3.27],"nice":false,"zero":false},"axis":{"orient":"bottom","values":[0.5,0.6,0.7,0.8,0.9,1.0,1.1,1.2,1.3,1.4,1.5,1.6,1.7,1.8,1.9,2.0,2.1,2.2,2.3,2.4,2.5,2.6,2.7,2.8,2.9,3.0,3.1,3.2],"labelExpr":"abs(datum.value*2-round(datum.value*2))<0.001 ? format(datum.value,'.1f') : ''","tickSize":{"condition":{"test":"abs(datum.value*2-round(datum.value*2))<0.001","value":9},"value":5},"tickWidth":1.5,"labelFontSize":23,"labelPadding":1,"labelFlush":false,"labelOverlap":false,"domain":false,"title":"U-Pb age, Ga","titleFontSize":18,"titlePadding":6,"titleX":200}},
  "y":{"field":"y","type":"quantitative","scale":{"domain":[0,173],"nice":false,"zero":false},"axis":{"title":"Relative probability","labels":false,"ticks":false,"domain":false,"titleFontSize":18,"titlePadding":10}}},
 "layer":[
  {"data":{"name":"bands"},"mark":{"type":"rect","fill":"#e2e2e2","stroke":"#9c9c9c","strokeWidth":1,"clip":true},"encoding":{"x2":{"field":"x2"},"y2":{"field":"y2"}}},
  {"data":{"name":"hatch"},"transform":[{"filter":"datum.p=='a'"}],"mark":{"type":"rect","fill":"#cbcbcb"},"encoding":{"x2":{"field":"x2"},"y2":{"field":"y2"}}},
  {"data":{"name":"boxes"},"transform":[{"filter":"datum.p=='a'"}],"mark":{"type":"rect","fill":"white","stroke":"black","strokeWidth":1.2},"encoding":{"x2":{"field":"x2"},"y2":{"field":"y2"}}},
  {"data":{"name":"notes"},"transform":[{"filter":"datum.p=='a' && datum.role=='letter'"}],"mark":{"type":"text","fontSize":22,"align":"center","baseline":"middle"},"encoding":{"text":{"field":"t"}}},
  {"data":{"name":"notes"},"transform":[{"filter":"datum.p=='a' && datum.role=='bold'"}],"mark":{"type":"text","fontSize":16,"fontWeight":"bold","align":"left","baseline":"middle"},"encoding":{"text":{"field":"t"}}},
  {"data":{"name":"notes"},"transform":[{"filter":"datum.p=='a' && datum.role=='info'"}],"mark":{"type":"text","fontSize":16,"align":"left","baseline":"middle"},"encoding":{"text":{"field":"t"}}},
  {"data":{"name":"notes"},"transform":[{"filter":"datum.p=='a' && datum.role=='small'"}],"mark":{"type":"text","fontSize":13,"align":"left","baseline":"middle"},"encoding":{"text":{"field":"t"}}},
  {"data":{"name":"notes"},"transform":[{"filter":"datum.p=='a' && datum.role=='legend'"}],"mark":{"type":"text","fontSize":16.5,"align":"left","baseline":"middle"},"encoding":{"text":{"field":"t"}}},
  {"data":{"name":"legendLines"},"transform":[{"filter":"datum.s=='this'"}],"mark":{"type":"rule","color":"black","strokeWidth":4},"encoding":{"x2":{"field":"x2"}}},
  {"data":{"name":"legendLines"},"transform":[{"filter":"datum.s=='kup'"}],"mark":{"type":"rule","color":"#969696","strokeWidth":4},"encoding":{"x2":{"field":"x2"}}},
  {"data":{"name":"dens"},"transform":[{"filter":"datum.p=='a' && datum.s=='this'"}],"mark":{"type":"area","color":"black","interpolate":"monotone","clip":true}},
  {"data":{"name":"dens"},"transform":[{"filter":"datum.p=='a' && datum.s=='kup'"}],"mark":{"type":"line","color":"#969696","strokeWidth":3.5,"interpolate":"monotone","clip":true}}
 ]},
 {"data":{"name":"bands"},"mark":{"type":"rule","opacity":0},"encoding":{"x":{"field":"x","type":"quantitative","scale":{"domain":[0.5,3.27],"nice":false,"zero":false},"axis":{"orient":"top","values":[0.5,0.6,0.7,0.8,0.9,1.0,1.1,1.2,1.3,1.4,1.5,1.6,1.7,1.8,1.9,2.0,2.1,2.2,2.3,2.4,2.5,2.6,2.7,2.8,2.9,3.0,3.1,3.2],"labels":false,"domain":false,"title":null,"tickWidth":1.5,"tickSize":{"condition":{"test":"abs(datum.value*2-round(datum.value*2))<0.001","value":-11},"value":-4},"zindex":1}}}}
 ]},
{"width":320,"height":173,
 "resolve":{"axis":{"x":"independent"}},
 "layer":[
 {"encoding":{"x":{"field":"x","type":"quantitative","scale":{"domain":[0,20],"nice":false,"zero":false},"axis":{"orient":"bottom","values":[0,2,4,6,8,10,12,14,16,18,20],"labelExpr":"datum.value % 4 == 0 ? datum.label : ''","tickSize":{"condition":{"test":"datum.value % 4 == 0","value":8},"value":5},"tickWidth":1.5,"labelFontSize":23,"labelPadding":1,"labelFlush":false,"labelOverlap":false,"domain":false,"title":"²⁰⁷Pb/²³⁵U","titleFontSize":20,"titlePadding":4,"titleX":140}},
  "y":{"field":"y","type":"quantitative","scale":{"domain":[0,0.6],"nice":false,"zero":false},"axis":{"title":"²⁰⁶Pb/²³⁸U","values":[0.1,0.2,0.3,0.4,0.5],"labelExpr":"(datum.value==0.2||datum.value==0.4)?format(datum.value,'.1f'):''","tickSize":{"condition":{"test":"datum.value==0.2||datum.value==0.4","value":6},"value":4},"tickWidth":1.2,"labelFontSize":18,"labelPadding":1,"titleFontSize":20,"titlePadding":0,"domain":false,"zindex":1}}},
 "layer":[
  {"data":{"name":"guides"},"mark":{"type":"rule","strokeDash":[2,3],"color":"#222","strokeWidth":1},"encoding":{"x2":{"field":"x2"},"y2":{"field":"y2"}}},
  {"data":{"name":"conc"},"transform":[{"filter":"datum.c=='upper'"}],"mark":{"type":"line","color":"#1c2a9c","strokeWidth":2.2,"interpolate":"monotone","clip":true}},
  {"data":{"name":"conc"},"transform":[{"filter":"datum.c=='lower'"}],"mark":{"type":"line","color":"#2f4fd0","strokeWidth":1.3,"interpolate":"monotone","clip":true}},
  {"data":{"name":"conc"},"mark":{"type":"point","shape":"circle","filled":true,"fill":"white","stroke":"#5a70d8","strokeWidth":0.8,"size":10,"opacity":1,"clip":true}},
  {"data":{"name":"zircons"},"transform":[{"filter":"datum.p=='a' && datum.g=='disc'"}],"mark":{"type":"point","shape":"M -1 0 A 1 0.45 0 1 0 1 0 A 1 0.45 0 1 0 -1 0 Z","filled":false,"stroke":"#e8141c","strokeWidth":1,"opacity":1,"angle":-24,"clip":true},"encoding":{"size":{"field":"e","type":"quantitative","scale":{"type":"pow","exponent":2,"domain":[0,2],"range":[0,1024]},"legend":null}}},
  {"data":{"name":"zircons"},"transform":[{"filter":"datum.p=='a' && datum.g=='conc'"}],"mark":{"type":"point","shape":"M -1 0 A 1 0.45 0 1 0 1 0 A 1 0.45 0 1 0 -1 0 Z","filled":true,"fill":"#e3121b","stroke":"#5a0000","strokeWidth":0.7,"opacity":1,"angle":-24,"clip":true},"encoding":{"size":{"field":"e","type":"quantitative","scale":{"type":"pow","exponent":2,"domain":[0,2],"range":[0,1024]},"legend":null}}},
  {"data":{"name":"zircons"},"transform":[{"filter":"datum.p=='a' && datum.g=='shrimp'"}],"mark":{"type":"point","shape":"M -1 0 A 1 0.3 0 1 0 1 0 A 1 0.3 0 1 0 -1 0 Z","filled":true,"fill":"#111","strokeWidth":0,"opacity":1,"angle":-24,"clip":true},"encoding":{"size":{"field":"e","type":"quantitative","scale":{"type":"pow","exponent":2,"domain":[0,2],"range":[0,1024]},"legend":null}}},
  {"data":{"name":"keys"},"transform":[{"filter":"datum.g=='conc'"}],"mark":{"type":"point","shape":"M -1 0 A 1 0.6 0 1 0 1 0 A 1 0.6 0 1 0 -1 0 Z","filled":true,"fill":"#e3121b","stroke":"#5a0000","strokeWidth":0.7,"opacity":1},"encoding":{"size":{"field":"e","type":"quantitative","scale":{"type":"pow","exponent":2,"domain":[0,2],"range":[0,1024]},"legend":null}}},
  {"data":{"name":"keys"},"transform":[{"filter":"datum.g=='disc'"}],"mark":{"type":"point","shape":"M -1 0 A 1 0.6 0 1 0 1 0 A 1 0.6 0 1 0 -1 0 Z","filled":false,"stroke":"#e8141c","strokeWidth":1,"opacity":1},"encoding":{"size":{"field":"e","type":"quantitative","scale":{"type":"pow","exponent":2,"domain":[0,2],"range":[0,1024]},"legend":null}}},
  {"data":{"name":"cLabels"},"transform":[{"filter":"datum.p=='a' && datum.role=='age'"}],"mark":{"type":"text","fontSize":14,"align":"center","baseline":"middle"},"encoding":{"text":{"field":"t"}}},
  {"data":{"name":"cLabels"},"transform":[{"filter":"datum.p=='a' && datum.role=='info'"}],"mark":{"type":"text","fontSize":14,"align":"left","baseline":"middle"},"encoding":{"text":{"field":"t"}}},
  {"data":{"name":"cLabels"},"transform":[{"filter":"datum.p=='a' && datum.role=='key'"}],"mark":{"type":"text","fontSize":12.5,"align":"left","baseline":"middle"},"encoding":{"text":{"field":"t"}}}
 ]},
 {"data":{"name":"guides"},"mark":{"type":"rule","opacity":0},"encoding":{"x":{"field":"x","type":"quantitative","scale":{"domain":[0,20],"nice":false,"zero":false},"axis":{"orient":"top","values":[2,4,6,8,10,12,14,16,18],"labels":false,"domain":false,"title":null,"tickSize":-5,"tickWidth":1.2,"zindex":1}}}}
 ]}
]
}
